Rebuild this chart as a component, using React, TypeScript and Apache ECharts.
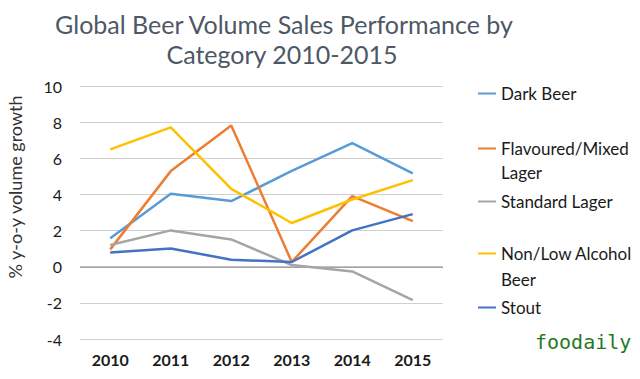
import React, { useEffect, useRef } from "react";
import * as echarts from "echarts";

const years = ["2010", "2011", "2012", "2013", "2014", "2015"];
const darkBeer = [1.57, 4.04, 3.63, 5.3, 6.84, 5.16];
const flavoured = [0.96, 5.29, 7.82, 0.26, 3.91, 2.52];
const standard = [1.2, 2.01, 1.51, 0.09, -0.26, -1.85];
const nonLow = [6.49, 7.71, 4.31, 2.42, 3.72, 4.79];
const stout = [0.79, 1.01, 0.39, 0.26, 2.01, 2.91];

const seriesNames = ["Dark Beer", "Flavoured/Mixed Lager", "Standard Lager", "Non/Low Alcohol Beer", "Stout"];
const legendLabels = ["Dark Beer", "Flavoured/Mixed", "Standard Lager", "Non/Low Alcohol", "Stout"];
const colors = ["#5B9BD5", "#ED7D31", "#A5A5A5", "#FFC000", "#4472C4"];
const FONT = "Lato, 'Open Sans', sans-serif";

export default function App() {
  const ref = useRef<HTMLDivElement>(null);
  useEffect(() => {
    if (!ref.current) return;
    const chart = echarts.init(ref.current, null, { renderer: "svg" });
    const data = [darkBeer, flavoured, standard, nonLow, stout];
    const legendLineY = [95, 150, 203, 255, 309];
    chart.setOption({
      animation: false,
      textStyle: { fontFamily: FONT },
      title: [
        {
          text: "Global Beer Volume Sales Performance by",
          left: 279,
          textAlign: "center",
          top: 6,
          textStyle: { fontFamily: FONT, fontSize: 25, fontWeight: "normal", color: "#4d5866" },
        },
        {
          text: "Category 2010-2015",
          left: 277,
          textAlign: "center",
          top: 36,
          textStyle: { fontFamily: FONT, fontSize: 25, fontWeight: "normal", color: "#4d5866" },
        },
      ],
      legend: seriesNames.map((n, i) => ({
        data: [n],
        left: 478,
        top: legendLineY[i] - 10,
        itemWidth: 18,
        itemHeight: 2,
        icon: "rect",
        formatter: () => legendLabels[i],
        selectedMode: false,
        padding: 0,
        textStyle: { fontFamily: FONT, fontSize: 17, color: "#1a1a1a" },
      })),
      grid: { left: 80, right: 197, top: 86, bottom: 40 },
      xAxis: {
        type: "category",
        data: years,
        boundaryGap: true,
        axisLine: { show: false },
        axisTick: { show: false },
        axisLabel: { fontSize: 16, color: "#1a1a1a", fontWeight: "bold", margin: 12, fontFamily: FONT },
      },
      yAxis: {
        type: "value",
        min: -4,
        max: 10,
        interval: 2,
        axisLine: { show: false },
        axisTick: { show: false },
        axisLabel: { fontSize: 16, color: "#1a1a1a", margin: 18, fontFamily: FONT },
        splitLine: { lineStyle: { color: "#d0d0d0", width: 1 } },
      },
      graphic: [
        {
          type: "line",
          shape: { x1: 80, y1: 267.3, x2: 443, y2: 267.3 },
          style: { stroke: "#8c8c8c", lineWidth: 1 },
          z: 1,
        },
        {
          type: "text",
          x: 15,
          y: 187,
          rotation: Math.PI / 2,
          style: { text: "% y-o-y volume growth", font: `18px ${FONT}`, fill: "#333", align: "center", verticalAlign: "middle" },
        },
        {
          type: "text",
          x: 501,
          y: 172,
          style: { text: "Lager", font: `17px ${FONT}`, fill: "#1a1a1a", verticalAlign: "middle" },
        },
        {
          type: "text",
          x: 501,
          y: 279,
          style: { text: "Beer", font: `17px ${FONT}`, fill: "#1a1a1a", verticalAlign: "middle" },
        },
        {
          type: "text",
          x: 535,
          y: 342,
          style: { text: "foodaily", font: "20px 'DejaVu Sans Mono', monospace", fill: "#1f7a1f", verticalAlign: "middle" },
        },
      ],
      series: seriesNames.map((n, i) => ({
        name: n,
        type: "line",
        data: data[i],
        color: colors[i],
        symbol: "none",
        lineStyle: { width: 2.5, color: colors[i] },
        z: 3,
      })),
    });
    return () => chart.dispose();
  }, []);
  return <div ref={ref} style={{ position: "absolute", left: 0, top: 0, width: 640, height: 379 }} />;
}
